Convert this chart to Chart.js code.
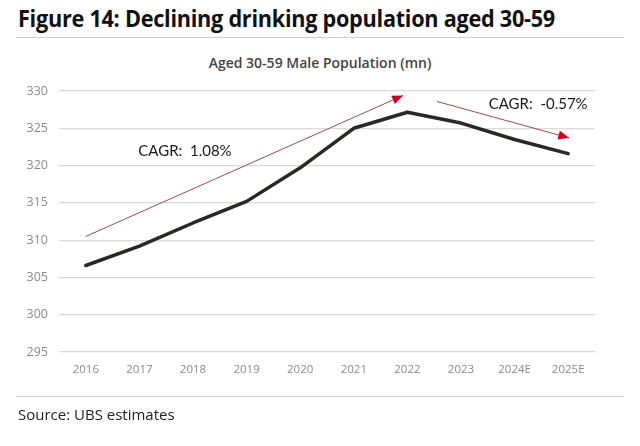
<!DOCTYPE html>
<html>
<head>
<meta charset="utf-8">
<script src="https://cdn.jsdelivr.net/npm/chart.js@4/dist/chart.umd.min.js"></script>
<style>
  html, body { margin: 0; padding: 0; background: #fff; }
  #wrap { position: relative; width: 640px; height: 446px; overflow: hidden; background: #fff; }
  #fig { position: absolute; left: 18px; top: 1px; font-family: "Open Sans", sans-serif; font-weight: 700; font-size: 24px; color: #111; white-space: nowrap; transform-origin: 0 0; letter-spacing: -0.3px; }
  #rule1 { position: absolute; left: 16px; width: 608px; top: 37px; height: 0; border-top: 1.5px solid #d0d0d0; }
  #rule2 { position: absolute; left: 16px; width: 608px; top: 396px; height: 0; border-top: 1.5px solid #d0d0d0; }
  #src { position: absolute; left: 18px; top: 404px; font-family: "Open Sans", sans-serif; font-size: 15px; color: #222; white-space: nowrap; }
  #ctitle { position: absolute; left: 0; width: 640px; top: 53px; text-align: center; font-family: "Open Sans", sans-serif; font-weight: 600; font-size: 14px; color: #444; }
  canvas { position: absolute; left: 0; top: 0; }
</style>
</head>
<body>
<div id="wrap">
  <div id="fig">Figure 14: Declining drinking population aged 30-59</div>
  <div id="rule1"></div>
  <div id="ctitle">Aged 30-59 Male Population (mn)</div>
  <canvas id="c" width="640" height="446"></canvas>
  <div id="rule2"></div>
  <div id="src">Source: UBS estimates</div>
</div>
<script>
// ---- data ----
const categories = ["2016", "2017", "2018", "2019", "2020", "2021", "2022", "2023", "2024E", "2025E"];
const malePopulation = [306.6, 309.2, 312.3, 315.2, 319.7, 325.0, 327.15, 325.7, 323.5, 321.6];
const yTicks = [295, 300, 305, 310, 315, 320, 325, 330];
// trend arrows (x = category index, y = value)
const growthArrow = [{x: 0, y: 310.5}, {x: 5.92, y: 329.4}];
const declineArrow = [{x: 6.55, y: 328.6}, {x: 9.02, y: 323.7}];
const cagrLabels = ["CAGR:  1.08%", "CAGR:  -0.57%"];

// label anchors (data space)
const labelAnchors = [{x: 1.85, y: 322.0}, {x: 8.44, y: 328.3}];

// fit title width
(function(){
  const f = document.getElementById('fig');
  const w = f.getBoundingClientRect().width;
  const target = 537;
  f.style.transform = 'scaleX(' + (target / w) + ')';
})();

const arrowHeads = {
  id: 'arrowHeads',
  afterDatasetsDraw(chart) {
    const ctx = chart.ctx;
    [1, 2].forEach(di => {
      const meta = chart.getDatasetMeta(di);
      const pts = meta.data;
      const a = pts[pts.length - 2], b = pts[pts.length - 1];
      const ang = Math.atan2(b.y - a.y, b.x - a.x);
      const len = 11, half = 4.5;
      ctx.save();
      ctx.translate(b.x, b.y);
      ctx.rotate(ang);
      ctx.beginPath();
      ctx.moveTo(0, 0);
      ctx.lineTo(-len, -half);
      ctx.lineTo(-len, half);
      ctx.closePath();
      ctx.fillStyle = '#d0021b';
      ctx.fill();
      ctx.restore();
    });
    // CAGR labels
    const xs = chart.scales.x, ys = chart.scales.y;
    ctx.save();
    ctx.font = '15px Lato, "Open Sans", sans-serif';
    ctx.fillStyle = '#1a1a1a';
    ctx.textAlign = 'center';
    ctx.textBaseline = 'middle';
    cagrLabels.forEach((t, i) => {
      ctx.fillText(t, xs.getPixelForValue(labelAnchors[i].x), ys.getPixelForValue(labelAnchors[i].y));
    });
    ctx.restore();
  }
};

new Chart(document.getElementById('c'), {
  type: 'line',
  data: {
    datasets: [
      {
        data: malePopulation.map((v, i) => ({x: i, y: v})),
        borderColor: '#2b2724',
        borderWidth: 3.5,
        pointRadius: 0,
        tension: 0,
        borderCapStyle: 'round',
        borderJoinStyle: 'round'
      },
      {
        data: growthArrow,
        borderColor: '#9a4b4b',
        borderWidth: 1,
        pointRadius: 0
      },
      {
        data: declineArrow,
        borderColor: '#9a4b4b',
        borderWidth: 1,
        pointRadius: 0
      }
    ]
  },
  options: {
    responsive: false,
    animation: false,
    layout: { padding: { top: 91, right: 45, bottom: 64, left: 0 } },
    plugins: { legend: { display: false }, tooltip: { enabled: false }, title: { display: false } },
    scales: {
      x: {
        type: 'linear',
        min: -0.5, max: 9.5,
        afterBuildTicks(scale) { scale.ticks = categories.map((c, i) => ({value: i})); },
        afterFit(scale) { scale.height = 30; },
        ticks: {
          callback: (v) => categories[v],
          color: '#8a8a8a',
          font: { family: '"Open Sans", sans-serif', size: 11.5 },
          padding: 11,
          maxRotation: 0,
          autoSkip: false
        },
        grid: { display: false, drawTicks: false },
        border: { display: false }
      },
      y: {
        min: 295, max: 330,
        afterBuildTicks(scale) { scale.ticks = yTicks.map(v => ({value: v})); },
        afterFit(scale) { scale.width = 59; },
        ticks: {
          color: '#8a8a8a',
          font: { family: '"Open Sans", sans-serif', size: 12.5 },
          padding: 11
        },
        grid: { color: '#dadada', lineWidth: 1.2, drawTicks: false },
        border: { display: false }
      }
    }
  },
  plugins: [arrowHeads]
});
</script>
</body>
</html>
